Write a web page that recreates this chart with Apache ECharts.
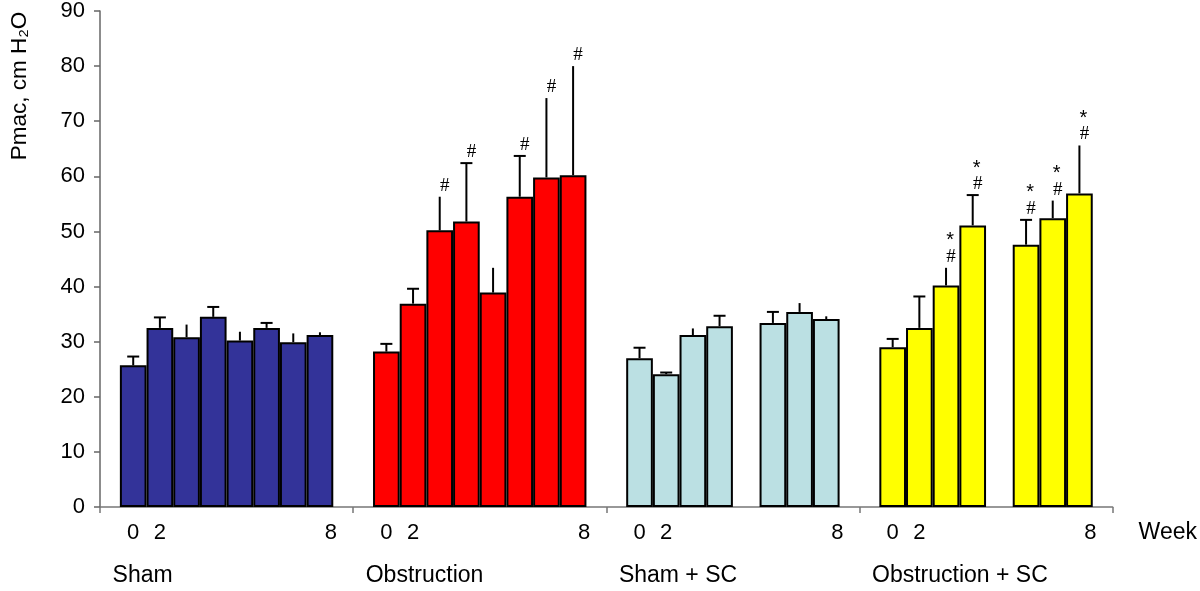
<!DOCTYPE html>
<html>
<head>
<meta charset="utf-8">
<title>Pmac by group and week</title>
<script src="https://cdn.jsdelivr.net/npm/echarts@6/dist/echarts.min.js"></script>
<style>
    html, body { margin: 0; padding: 0; background: #fff; }
    #chart { width: 1200px; height: 591px; }
</style>
</head>
<body>
<div id="chart"></div>
<script>
// groups along the x axis
var groups = ['Sham', 'Obstruction', 'Sham + SC', 'Obstruction + SC'];
var groupColors = ['#333399', '#ff0000', '#bbe0e3', '#ffff00'];
// week text under each bar slot
var weekLabels = ['0', '2', '', '', '', '', '', '8'];

// mean Pmac per slot (null = no bar)
var shamMean = [25.7, 32.5, 30.8, 34.5, 30.2, 32.5, 29.9, 31.2];
var obstrMean = [28.2, 36.9, 50.2, 51.8, 38.9, 56.3, 59.8, 60.2];
var shamScMean = [27.0, 24.1, 31.2, 32.8, null, 33.4, 35.4, 34.1];
var obstrScMean = [29.0, 32.5, 40.2, 51.1, null, 47.6, 52.4, 56.9];

// upper end of the error bar
var shamErr = [27.3, 34.4, 33.1, 36.3, 31.8, 33.4, 31.5, 31.7];
var obstrErr = [29.6, 39.6, 56.3, 62.4, 43.4, 63.7, 74.2, 80.0];
var shamScErr = [28.9, 24.4, 32.4, 34.7, null, 35.4, 37.0, 34.6];
var obstrScErr = [30.5, 38.2, 43.4, 56.6, null, 52.1, 55.6, 65.6];

// 1 = error bar with cap
var shamCap = [1, 1, 0, 1, 0, 1, 0, 0];
var obstrCap = [1, 1, 0, 1, 0, 1, 0, 0];
var shamScCap = [1, 1, 0, 1, 0, 1, 0, 0];
var obstrScCap = [1, 1, 0, 1, 0, 1, 0, 0];

// significance marks
var shamMarks = ['', '', '', '', '', '', '', ''];
var obstrMarks = ['', '', '#', '#', '', '#', '#', '#'];
var shamScMarks = ['', '', '', '', '', '', '', ''];
var obstrScMarks = ['', '', '*#', '*#', '', '*#', '*#', '*#'];

var means = [shamMean, obstrMean, shamScMean, obstrScMean];
var errs = [shamErr, obstrErr, shamScErr, obstrScErr];
var caps = [shamCap, obstrCap, shamScCap, obstrScCap];
var marks = [shamMarks, obstrMarks, shamScMarks, obstrScMarks];

var slotCount = weekLabels.length;
var catGap = '15.7%';
var fontFamily = '"Liberation Sans", Arial, sans-serif';

// one bar series per week slot
var barSeries = weekLabels.map(function (week, slot) {
    return {
        type: 'bar',
        name: 'slot' + slot,
        barGap: '0%',
        barCategoryGap: catGap,
        itemStyle: {
            borderColor: '#000',
            borderWidth: 2
        },
        label: {
            show: week !== '',
            position: 'bottom',
            distance: 15,
            offset: week === '8' ? [11, 0] : [0, 0],
            formatter: week,
            color: '#000',
            fontSize: 22,
            fontFamily: fontFamily
        },
        data: means.map(function (list, g) {
            return { value: list[slot], itemStyle: { color: groupColors[g] } };
        })
    };
});

// error bars + marks
var errData = [];
means.forEach(function (list, g) {
    list.forEach(function (v, slot) {
        if (v == null) return;
        errData.push([g, slot, v, errs[g][slot], caps[g][slot], marks[g][slot]]);
    });
});

function renderError(params, api) {
    var g = api.value(0);
    var slot = api.value(1);
    var layout = api.barLayout({ barGap: '0%', barCategoryGap: catGap, count: slotCount });
    var base = api.coord([g, api.value(2)]);
    var top = api.coord([g, api.value(3)]);
    var x = base[0] + layout[slot].offsetCenter;
    var lineStyle = { stroke: '#000', lineWidth: 2 };
    var children = [{
        type: 'line',
        shape: { x1: x, y1: base[1], x2: x, y2: top[1] },
        style: lineStyle
    }];
    if (api.value(4)) {
        children.push({
            type: 'line',
            shape: { x1: x - 6, y1: top[1], x2: x + 6, y2: top[1] },
            style: lineStyle
        });
    }
    var mark = errData[params.dataIndex][5];
    if (mark.indexOf('#') >= 0) {
        children.push({
            type: 'text',
            style: {
                text: '#', x: x + 5, y: top[1] - 11,
                align: 'center', verticalAlign: 'middle',
                fontSize: 19, fontFamily: '"Liberation Serif", serif', fill: '#000'
            }
        });
    }
    if (mark.indexOf('*') >= 0) {
        children.push({
            type: 'text',
            style: {
                text: '*', x: x + 4, y: top[1] - 27,
                align: 'center', verticalAlign: 'middle',
                fontSize: 20, fontFamily: '"Liberation Sans", sans-serif', fill: '#000'
            }
        });
    }
    return { type: 'group', children: children };
}

var chart = echarts.init(document.getElementById('chart'));
var option = {
    backgroundColor: '#fff',
    animation: false,
    textStyle: { fontFamily: fontFamily },
    grid: {
        left: 97,
        right: 85,
        top: 11,
        bottom: 84
    },
    xAxis: {
        type: 'category',
        data: groups,
        name: 'Week',
        nameLocation: 'end',
        nameGap: 26,
        nameTextStyle: {
            color: '#000',
            fontSize: 23,
            align: 'left',
            verticalAlign: 'top',
            padding: [14, 0, 0, 0]
        },
        axisLine: { lineStyle: { color: '#777', width: 1.5 } },
        axisTick: { show: true, length: 6, lineStyle: { color: '#777', width: 1.5 } },
        axisLabel: {
            interval: 0,
            margin: 55,
            formatter: function (v) { return '{g|' + v + '}'; },
            rich: {
                g: {
                    width: 228,
                    align: 'left',
                    fontSize: 23,
                    lineHeight: 27,
                    color: '#000',
                    fontFamily: fontFamily
                }
            }
        },
        splitLine: { show: false }
    },
    yAxis: {
        type: 'value',
        min: 0,
        max: 90,
        interval: 10,
        name: 'Pmac, cm H₂O',
        nameLocation: 'middle',
        nameRotate: 90,
        nameGap: 69,
        nameTextStyle: {
            color: '#000',
            fontSize: 22.5,
            padding: [0, 0, 0, 346]
        },
        axisLine: { show: true, lineStyle: { color: '#666', width: 1.5 } },
        axisTick: { show: true, length: 6, lineStyle: { color: '#666', width: 1.5 } },
        axisLabel: {
            margin: 15,
            color: '#000',
            fontSize: 22
        },
        splitLine: { show: false }
    },
    series: barSeries.concat([{
        type: 'custom',
        name: 'error',
        renderItem: renderError,
        encode: { x: 0, y: [2, 3] },
        z: 5,
        data: errData
    }])
};

chart.setOption(option);

window.onresize = function () {
    chart.resize();
};
</script>
</body>
</html>
